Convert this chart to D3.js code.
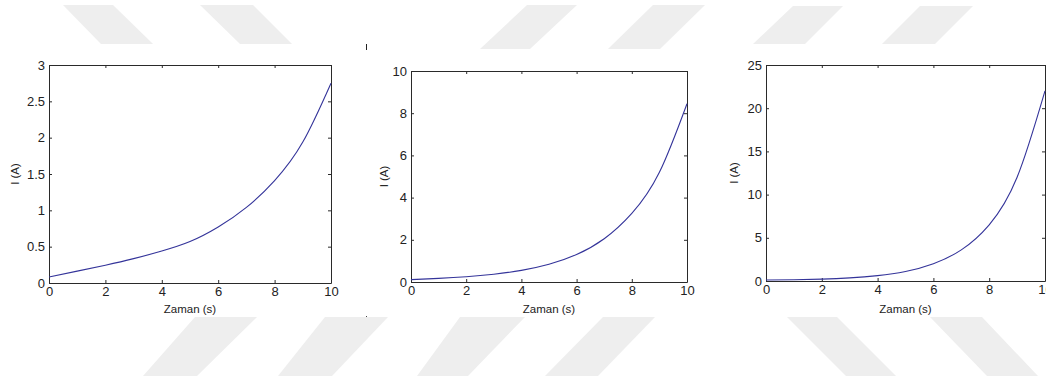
<!DOCTYPE html>
<html>
<head>
<meta charset="utf-8">
<script src="https://cdn.jsdelivr.net/npm/d3@7"></script>
<style>
  html, body { margin: 0; padding: 0; background: #fff; }
  svg { display: block; }
  text { font-family: "Liberation Sans", Arial, Helvetica, sans-serif; fill: #222; }
</style>
</head>
<body>
<svg id="chart" width="1046" height="381"></svg>
<script>
// ---- data ----
const timeValues = [0, 1, 2, 3, 4, 5, 6, 7, 8, 9, 10];
const current1 = [0.083, 0.163, 0.245, 0.335, 0.44, 0.57, 0.77, 1.04, 1.41, 1.94, 2.75];
const current2 = [0.11, 0.17, 0.25, 0.37, 0.55, 0.84, 1.30, 2.05, 3.25, 5.2, 8.45];
const current3 = [0.12, 0.15, 0.22, 0.36, 0.62, 1.1, 2.0, 3.6, 6.5, 12.0, 22.0];
const xTicks = [0, 2, 4, 6, 8, 10];
const yTicks1 = [0, 0.5, 1, 1.5, 2, 2.5, 3];
const yTicks2 = [0, 2, 4, 6, 8, 10];
const yTicks3 = [0, 5, 10, 15, 20, 25];
const xLabel = "Zaman (s)";
const yLabel = "I (A)";

const svg = d3.select("#chart");

// ---- background watermark (decorative) ----
const wm = [
  [[63,5],[113,5],[153,44],[101,44]],
  [[200,5],[253,5],[292,44],[240,44]],
  [[527,5],[577,5],[530,49],[480,49]],
  [[653,5],[705,5],[660,49],[608,49]],
  [[793,6],[843,6],[805,44],[753,44]],
  [[920,6],[973,6],[935,44],[882,44]],
  [[195,317],[257,317],[197,376],[143,376]],
  [[325,317],[388,317],[332,376],[278,376]],
  [[460,317],[525,317],[468,376],[417,376]],
  [[603,317],[655,317],[598,376],[545,376]],
  [[787,317],[837,317],[896,376],[846,376]],
  [[930,317],[982,317],[1038,376],[987,376]]
];
svg.append("g").selectAll("polygon").data(wm).join("polygon")
  .attr("points", d => d.map(p => p.join(",")).join(" "))
  .attr("fill", "#eeeeee");
svg.append("line").attr("x1", 366.5).attr("x2", 366.5).attr("y1", 44).attr("y2", 50)
  .attr("stroke", "#222").attr("stroke-width", 1);
svg.append("rect").attr("x", 366).attr("y", 316).attr("width", 1).attr("height", 1).attr("fill", "#444");

// ---- panels ----
const panels = [
  { x0: 49, x1: 331, y0: 65, y1: 283, yMax: 3, yTicks: yTicks1, values: current1, yLabX: 15 },
  { x0: 411, x1: 687, y0: 71, y1: 282, yMax: 10, yTicks: yTicks2, values: current2, yLabX: 384 },
  { x0: 766, x1: 1045, y0: 65, y1: 281, yMax: 25, yTicks: yTicks3, values: current3, yLabX: 734 }
];

panels.forEach(p => {
  const x = d3.scaleLinear().domain([0, 10]).range([p.x0, p.x1]);
  const y = d3.scaleLinear().domain([0, p.yMax]).range([p.y1, p.y0]);
  const g = svg.append("g");

  g.append("rect").attr("x", p.x0).attr("y", p.y0)
    .attr("width", p.x1 - p.x0).attr("height", p.y1 - p.y0).attr("fill", "#fff");

  const fs = "13px";
  const axB = g.append("g").attr("transform", `translate(0,${p.y1})`)
    .call(d3.axisBottom(x).tickValues(xTicks).tickFormat(d3.format("d")).tickSizeInner(-3).tickSizeOuter(0).tickPadding(4));
  const axT = g.append("g").attr("transform", `translate(0,${p.y0})`)
    .call(d3.axisTop(x).tickValues(xTicks).tickFormat("").tickSizeInner(-3).tickSizeOuter(0));
  const axL = g.append("g").attr("transform", `translate(${p.x0},0)`)
    .call(d3.axisLeft(y).tickValues(p.yTicks).tickFormat(d => String(d)).tickSizeInner(-3).tickSizeOuter(0).tickPadding(4));
  const axR = g.append("g").attr("transform", `translate(${p.x1},0)`)
    .call(d3.axisRight(y).tickValues(p.yTicks).tickFormat("").tickSizeInner(-3).tickSizeOuter(0));
  [axB, axT, axL, axR].forEach(a => {
    a.selectAll(".domain").attr("stroke", "#2a2a2a");
    a.selectAll(".tick line").attr("stroke", "#2a2a2a");
    a.selectAll(".tick text").style("font-size", fs).attr("fill", "#222")
      .style("font-family", '"Liberation Sans", Arial, sans-serif');
  });

  const line = d3.line()
    .x((d, i) => x(timeValues[i]))
    .y(d => y(d))
    .curve(d3.curveNatural);
  g.append("path").datum(p.values).attr("d", line)
    .attr("fill", "none").attr("stroke", "#34349a").attr("stroke-width", 1.1);

  g.append("text").attr("x", (p.x0 + p.x1) / 2).attr("y", 313)
    .attr("text-anchor", "middle").style("font-size", "11.5px").text(xLabel);
  g.append("text")
    .attr("transform", `translate(${p.yLabX + 4},${(p.y0 + p.y1) / 2}) rotate(-90)`)
    .attr("text-anchor", "middle").style("font-size", "11.5px").text(yLabel);
});
</script>
</body>
</html>
